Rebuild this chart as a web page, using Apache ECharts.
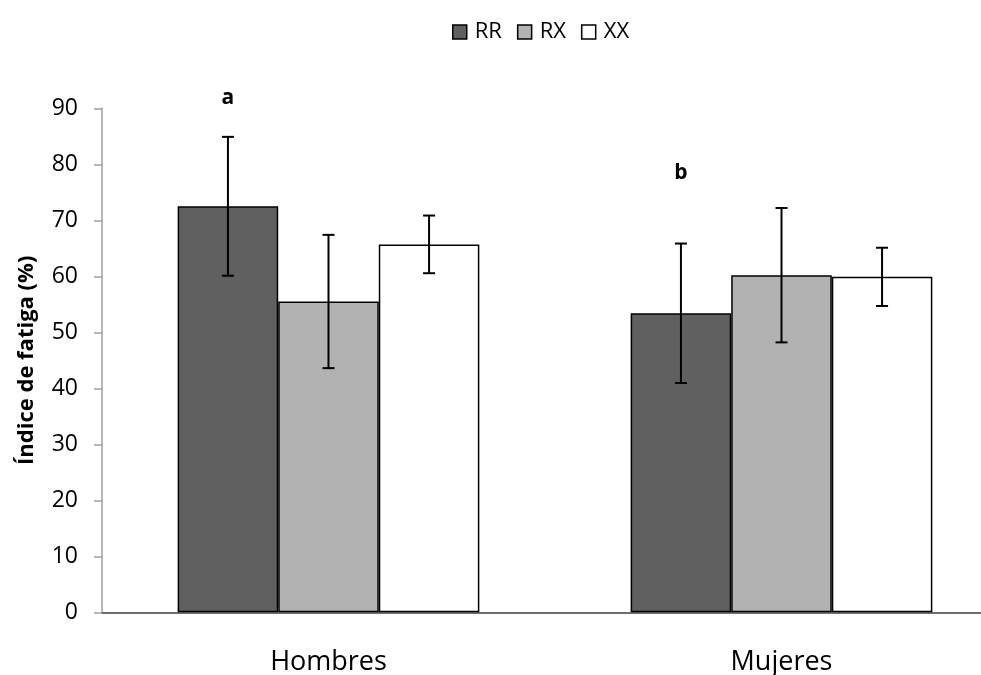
<!DOCTYPE html>
<html><head><meta charset="utf-8">
<script src="https://cdn.jsdelivr.net/npm/echarts@6/dist/echarts.min.js"></script>
<style>html,body{margin:0;padding:0;background:#fff}#c{width:981px;height:675px}</style>
</head><body><div id="c"></div>
<script>
const categories = ['Hombres', 'Mujeres'];
const seriesNames = ['RR', 'RX', 'XX'];
const valuesRR = [72.5, 53.4];
const valuesRX = [55.5, 60.2];
const valuesXX = [65.7, 59.9];
const errRR = [12.4, 12.45];
const errRX = [11.9, 12.0];
const errXX = [5.15, 5.2];
const letters = ['a', 'b'];
const letterY = [91.8, 78.4];
const yTicks = [0, 10, 20, 30, 40, 50, 60, 70, 80, 90];

const FONT = '"Open Sans", Lato, sans-serif';
const colors = ['#606060', '#b2b2b2', '#ffffff'];
const values = [valuesRR, valuesRX, valuesXX];
const errs = [errRR, errRX, errXX];
const BW = 0.222;

const chart = echarts.init(document.getElementById('c'), null, {renderer: 'canvas'});

const barSeries = seriesNames.map((n, i) => ({
  name: n, type: 'bar', data: values[i], barWidth: (BW * 100) + '%', barGap: '0%',
  itemStyle: {color: colors[i], borderColor: '#000', borderWidth: 1.5},
  z: 2
}));

const errData = [];
categories.forEach((c, ci) => {
  seriesNames.forEach((s, si) => {
    errData.push([ci, si, values[si][ci] - errs[si][ci], values[si][ci] + errs[si][ci]]);
  });
});

const errSeries = {
  type: 'custom', name: 'err', z: 5, silent: true,
  renderItem: function (params, api) {
    const ci = api.value(0), si = api.value(1);
    const band = api.size([1, 0])[0];
    const x = api.coord([ci, 0])[0] + (si - 1) * BW * band;
    const lo = api.coord([ci, api.value(2)])[1];
    const hi = api.coord([ci, api.value(3)])[1];
    const cap = 6;
    const st = {stroke: '#000', lineWidth: 2};
    return {type: 'group', children: [
      {type: 'line', shape: {x1: x, y1: lo, x2: x, y2: hi}, style: st},
      {type: 'line', shape: {x1: x - cap, y1: lo, x2: x + cap, y2: lo}, style: st},
      {type: 'line', shape: {x1: x - cap, y1: hi, x2: x + cap, y2: hi}, style: st}
    ]};
  },
  data: errData
};

const letterSeries = {
  type: 'custom', name: 'letters', z: 6, silent: true,
  renderItem: function (params, api) {
    const ci = api.value(0);
    const band = api.size([1, 0])[0];
    const x = api.coord([ci, 0])[0] - BW * band;
    const y = api.coord([ci, api.value(1)])[1];
    return {type: 'text', style: {text: letters[params.dataIndex], x: x, y: y, align: 'center', verticalAlign: 'middle',
      font: 'bold 21px ' + FONT, fill: '#000'}};
  },
  data: letters.map((l, i) => [i, letterY[i]])
};

chart.setOption({
  animation: false,
  backgroundColor: '#fff',
  legend: {
    data: seriesNames, top: 16, left: 447, itemWidth: 14, itemHeight: 14, itemGap: 15,
    icon: 'rect',
    itemStyle: {borderColor: '#000', borderWidth: 1.5},
    textStyle: {fontFamily: FONT, fontSize: 22, color: '#000', padding: [0, 0, 0, 3]}
  },
  grid: {left: 102, right: -27, top: 108.3, bottom: 675 - 612.3, containLabel: false, outerBoundsMode: 'none'},
  xAxis: {
    type: 'category', data: categories,
    axisLine: {lineStyle: {color: '#404040', width: 1.5}},
    axisTick: {show: false},
    axisLabel: {fontFamily: FONT, fontSize: 27, color: '#000', margin: 37}
  },
  yAxis: {
    type: 'value', min: 0, max: 90, interval: 10,
    name: 'Índice de fatiga (%)', nameLocation: 'middle', nameGap: 64,
    nameTextStyle: {fontFamily: FONT, fontSize: 22, fontWeight: 'bold', color: '#000'},
    axisLine: {show: true, lineStyle: {color: '#a0a0a0', width: 1.5}},
    axisTick: {show: true, length: 8, lineStyle: {color: '#a0a0a0', width: 1.5}},
    axisLabel: {fontFamily: FONT, fontSize: 23, color: '#000', margin: 24,
      formatter: v => yTicks.includes(v) ? String(v) : ''},
    splitLine: {show: false}
  },
  series: [...barSeries, errSeries, letterSeries]
});
</script></body></html>
